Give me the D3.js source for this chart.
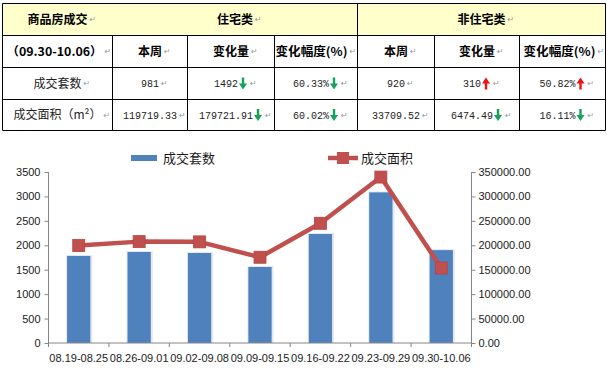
<!DOCTYPE html>
<html><head><meta charset="utf-8">
<script src="https://cdnjs.cloudflare.com/ajax/libs/d3/7.8.5/d3.min.js"></script>
<style>body{margin:0;background:#fff}svg{display:block}</style>
</head><body>
<svg id="c" width="607" height="369"></svg>
<script>
// ---------- data ----------
const categories = ["08.19-08.25","08.26-09.01","09.02-09.08","09.09-09.15","09.16-09.22","09.23-09.29","09.30-10.06"];
const unitsSold = [1781,1863,1842,1556,2231,3083,1901];
const areaSold = [199500,207500,207000,175500,245000,339625.25,153428.85];
const leftTicks = [0,500,1000,1500,2000,2500,3000,3500];
const rightTicks = [0,50000,100000,150000,200000,250000,300000,350000];
const seriesNames = ["成交套数","成交面积"];

const tableHeader1 = ["商品房成交","住宅类","非住宅类"];
const tableHeader2 = ["（09.30-10.06）","本周","变化量","变化幅度(%)","本周","变化量","变化幅度(%)"];
const rowLabels = ["成交套数","成交面积（m²）"];
const rowValues = [["981","1492","60.33%","920","310","50.82%"],
                   ["119719.33","179721.91","60.02%","33709.52","6474.49","16.11%"]];
const rowArrows = [[null,"down","down",null,"up","up"],
                   [null,"down","down",null,"down","down"]];

// ---------- layout ----------
const svg = d3.select("#c");
const colX = [2.5,112.5,187.5,274.5,357.5,434.5,519.5,605.5];
const rowY = [3.5,35.5,67.5,99.5,130.5];
const cjk = "'Noto Sans CJK SC','Noto Sans',sans-serif";
const mark = "↵";

const T = svg.append("g");
T.append("rect").attr("x",colX[0]).attr("y",rowY[0]).attr("width",colX[7]-colX[0]).attr("height",rowY[1]-rowY[0]).attr("fill","#FFFFCC");

function cell(x0,x1,y0,y1,text,opts={}){
  const g = T.append("g");
  const cy = (y0+y1)/2;
  const t = g.append("text").attr("y",cy).attr("dy","0.36em")
    .style("font-family",opts.mono? "'Liberation Mono','DejaVu Sans Mono',monospace" : cjk)
    .style("font-size",(opts.size||12)+"px")
    .style("font-weight",opts.bold?"bold":"normal")
    .attr("fill",opts.bold?"#000":"#222").text(text);
  if(opts.len){ t.attr("textLength",opts.len).attr("lengthAdjust","spacingAndGlyphs"); }
  const w = opts.len || t.node().getComputedTextLength();
  const aw = opts.arrow ? 10 : 0;
  const mw = 6, gap = opts.arrow ? 3 : 2;
  let start = (x0+x1)/2 - (w+aw)/2;
  // keep paragraph mark inside the cell
  const over = start + w + aw + gap + mw - (x1 - 2);
  if(over > 0) start -= over;
  t.attr("x",start);
  let end = start + w;
  if(opts.arrow){
    const ax = end + 5, col = opts.arrow==="down" ? "#17A25A" : "#F01010";
    const a = g.append("g").attr("fill",col);
    if(opts.arrow==="down"){
      a.append("rect").attr("x",ax-1.2).attr("y",cy-6).attr("width",2.4).attr("height",7);
      a.append("path").attr("d",`M${ax-4},${cy} L${ax+4},${cy} L${ax},${cy+6} Z`);
    } else {
      a.append("rect").attr("x",ax-1.2).attr("y",cy-1).attr("width",2.4).attr("height",7);
      a.append("path").attr("d",`M${ax-4},${cy} L${ax+4},${cy} L${ax},${cy-6} Z`);
    }
    end = ax + 4;
  }
  g.append("text").attr("x",end + gap).attr("y",cy).attr("dy","0.36em")
    .style("font-family","'DejaVu Sans',sans-serif").style("font-size","8px").attr("fill","#999").text(mark);
}

// header row 1
cell(colX[0],colX[1],rowY[0],rowY[1],tableHeader1[0],{bold:true});
cell(colX[1],colX[4],rowY[0],rowY[1],tableHeader1[1],{bold:true});
cell(colX[4],colX[7],rowY[0],rowY[1],tableHeader1[2],{bold:true});
// header row 2
tableHeader2.forEach((h,i)=>cell(colX[i],colX[i+1],rowY[1],rowY[2],h,{bold:true,len:i===0?96:(i===3||i===6?72:null)}));
// data rows
rowLabels.forEach((lab,r)=>{
  cell(colX[0],colX[1],rowY[r+2],rowY[r+3],lab,{});
  rowValues[r].forEach((v,i)=>cell(colX[i+1],colX[i+2],rowY[r+2],rowY[r+3],v,{mono:true,size:10,arrow:rowArrows[r][i]}));
});

// grid lines
const L = T.append("g").attr("stroke","#000").attr("stroke-width",1);
rowY.forEach(y=>L.append("line").attr("x1",colX[0]).attr("x2",colX[7]).attr("y1",y).attr("y2",y));
colX.forEach((x,i)=>{
  const y0 = (i===0||i===4||i===7) ? rowY[0] : rowY[1];
  L.append("line").attr("x1",x).attr("x2",x).attr("y1",y0).attr("y2",rowY[4]);
});

// ---------- chart ----------
const plotL = 48.5, plotR = 471.5, plotT = 172, plotB = 343;
const x = d3.scaleBand().domain(categories).range([plotL,plotR]).paddingInner(0).paddingOuter(0);
const yL = d3.scaleLinear().domain([0,3500]).range([plotB,plotT]);
const yR = d3.scaleLinear().domain([0,350000]).range([plotB,plotT]);
const C = svg.append("g");
const barW = x.bandwidth()*0.385;

// bar shadow + bars
C.selectAll("rect.sh").data(unitsSold).enter().append("rect")
  .attr("x",(d,i)=>x(categories[i])+x.bandwidth()/2-barW/2-1).attr("y",d=>yL(d)-1)
  .attr("width",barW+3).attr("height",d=>plotB-yL(d)+1).attr("fill","#E3E9F2");
C.selectAll("rect.bar").data(unitsSold).enter().append("rect")
  .attr("x",(d,i)=>x(categories[i])+x.bandwidth()/2-barW/2).attr("y",d=>yL(d))
  .attr("width",barW).attr("height",d=>plotB-yL(d)).attr("fill","#4F81BD");

// axes
const axisCol = "#868686";
const gL = C.append("g").attr("transform",`translate(${plotL},0)`)
  .call(d3.axisLeft(yL).tickValues(leftTicks).tickSize(4).tickPadding(4).tickFormat(d3.format("d")));
const gR = C.append("g").attr("transform",`translate(${plotR},0)`)
  .call(d3.axisRight(yR).tickValues(rightTicks).tickSize(4).tickPadding(3).tickFormat(d3.format(".2f")));
const gB = C.append("g").attr("transform",`translate(0,${plotB})`)
  .call(d3.axisBottom(x).tickSize(0).tickPadding(11));
// bottom ticks at band boundaries
const bounds = categories.map(c=>x(c)).concat([plotR]);
C.append("g").selectAll("line").data(bounds).enter().append("line")
  .attr("x1",d=>d).attr("x2",d=>d).attr("y1",plotB).attr("y2",plotB+4).attr("stroke",axisCol);
[gL,gR,gB].forEach(g=>{
  g.selectAll("path.domain").attr("stroke",axisCol).attr("stroke-width",1);
  g.selectAll(".tick line").attr("stroke",axisCol);
  g.selectAll("text").style("font-family","'Liberation Sans',Arial,sans-serif").style("font-size","11px").attr("fill","#1a1a1a");
});
gL.select("path.domain").attr("d",`M0,${plotT}V${plotB}`);
gR.select("path.domain").attr("d",`M0,${plotT}V${plotB}`);
gB.select("path.domain").attr("d",`M${plotL},0H${plotR}`);

// line
const line = d3.line().x((d,i)=>x(categories[i])+x.bandwidth()/2).y(d=>yR(d));
C.append("path").datum(areaSold).attr("d",line).attr("fill","none")
  .attr("stroke","#C0504D").attr("stroke-width",4.5).attr("stroke-linejoin","round");
const ms = 12;
C.selectAll("rect.mk").data(areaSold).enter().append("rect")
  .attr("x",(d,i)=>x(categories[i])+x.bandwidth()/2-ms/2).attr("y",d=>yR(d)-ms/2)
  .attr("width",ms).attr("height",ms).attr("fill","#C0504D").attr("stroke","#B8433F").attr("stroke-width",0.8);

// legend
const lg = C.append("g");
lg.append("rect").attr("x",131).attr("y",155).attr("width",26).attr("height",6).attr("fill","#4F81BD");
lg.append("text").attr("x",163).attr("y",158).attr("dy","0.36em").style("font-family",cjk).style("font-size","13px").attr("fill","#1a1a1a").text(seriesNames[0]);
lg.append("line").attr("x1",328).attr("x2",358).attr("y1",158).attr("y2",158).attr("stroke","#C0504D").attr("stroke-width",4.5);
lg.append("rect").attr("x",337).attr("y",152).attr("width",12).attr("height",12).attr("fill","#C0504D");
lg.append("text").attr("x",361).attr("y",158).attr("dy","0.36em").style("font-family",cjk).style("font-size","13px").attr("fill","#1a1a1a").text(seriesNames[1]);
</script>
</body></html>
